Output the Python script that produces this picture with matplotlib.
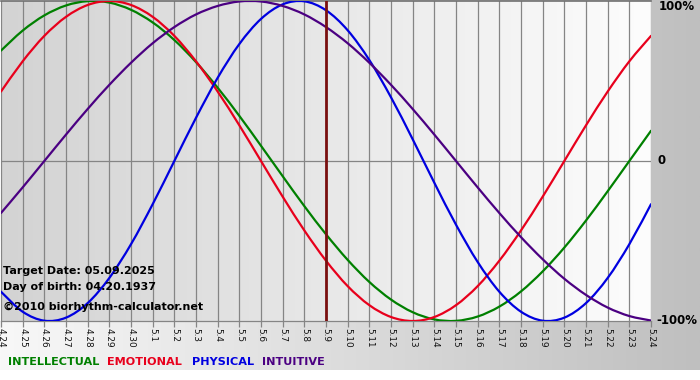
import numpy as np
import matplotlib
matplotlib.use("Agg")
import matplotlib.pyplot as plt
from matplotlib.colors import LinearSegmentedColormap
from matplotlib.path import Path
from matplotlib.patches import PathPatch

dates = ["4.24", "4.25", "4.26", "4.27", "4.28", "4.29", "4.30",
         "5.1", "5.2", "5.3", "5.4", "5.5", "5.6", "5.7", "5.8", "5.9",
         "5.10", "5.11", "5.12", "5.13", "5.14", "5.15", "5.16", "5.17",
         "5.18", "5.19", "5.20", "5.21", "5.22", "5.23", "5.24"]

intellectual = [0.690, 0.815, 0.910, 0.972, 0.999, 0.990, 0.945, 0.866, 0.756,
                0.618, 0.458, 0.282, 0.095, -0.095, -0.282, -0.458, -0.618,
                -0.756, -0.866, -0.945, -0.990, -0.999, -0.972, -0.910, -0.815,
                -0.690, -0.541, -0.372, -0.189, 0.000, 0.189]
emotional = [0.434, 0.623, 0.782, 0.901, 0.975, 1.000, 0.975, 0.901, 0.782,
             0.623, 0.434, 0.223, 0.000, -0.223, -0.434, -0.623, -0.782,
             -0.901, -0.975, -1.000, -0.975, -0.901, -0.782, -0.623, -0.434,
             -0.223, 0.000, 0.223, 0.434, 0.623, 0.782]
physical = [-0.817, -0.942, -0.998, -0.979, -0.888, -0.731, -0.520, -0.270,
            0.000, 0.270, 0.520, 0.731, 0.888, 0.979, 0.998, 0.942, 0.817,
            0.631, 0.398, 0.136, -0.136, -0.398, -0.631, -0.817, -0.942,
            -0.998, -0.979, -0.888, -0.731, -0.520, -0.270]
intuitive = [-0.325, -0.165, 0.000, 0.165, 0.325, 0.476, 0.614, 0.736, 0.837,
             0.916, 0.969, 0.997, 0.997, 0.969, 0.916, 0.837, 0.736, 0.614,
             0.476, 0.325, 0.165, 0.000, -0.165, -0.325, -0.476, -0.614,
             -0.736, -0.837, -0.916, -0.969, -0.997]

target_index = dates.index("5.9")
series_names = ["INTELLECTUAL", "EMOTIONAL", "PHYSICAL", "INTUITIVE"]
series_colors = ["#008000", "#e8001c", "#0000e0", "#4b0082"]
series_values = [intellectual, emotional, physical, intuitive]

W, H = 700, 380
fig = plt.figure(figsize=(W / 100, H / 100), dpi=100)
fig.patch.set_facecolor("white")

# outer background gradient
bg = fig.add_axes([0, 0, 1, 1], zorder=0)
bg.set_xlim(0, 1)
bg.set_ylim(0, 1)
bg.axis("off")
grad = np.linspace(0, 1, 256)[None, :]
cmap_out = LinearSegmentedColormap.from_list("o", ["#f8f8f8", "#bfbfbf"])
bg.imshow(grad, cmap=cmap_out, aspect="auto", extent=[0, 1, 10 / H, 1])

# plot area
ax = fig.add_axes([1 / W, 59 / H, 650 / W, 320 / H], zorder=1)
cmap_in = LinearSegmentedColormap.from_list("i", ["#d3d3d3", "#fdfdfd"])
x = np.arange(len(dates))
ax.imshow(grad, cmap=cmap_in, aspect="auto", extent=[0, len(dates) - 1, -1, 1], zorder=0)
ax.set_xlim(0, len(dates) - 1)
ax.set_ylim(-1, 1)

for xi in x:
    ax.axvline(xi, color="#858585", lw=0.9, zorder=1)
ax.axhline(0, color="#858585", lw=0.9, zorder=1)


def smooth_path(xs, ys):
    """Catmull-Rom curve through the data points, as cubic Bezier segments."""
    pts = np.column_stack([xs, ys]).astype(float)
    n = len(pts)
    verts = [pts[0]]
    codes = [Path.MOVETO]
    for i in range(n - 1):
        p0 = pts[i - 1] if i > 0 else pts[i]
        p1 = pts[i]
        p2 = pts[i + 1]
        p3 = pts[i + 2] if i + 2 < n else pts[i + 1]
        c1 = p1 + (p2 - p0) / 6.0
        c2 = p2 - (p3 - p1) / 6.0
        verts += [c1, c2, p2]
        codes += [Path.CURVE4] * 3
    return Path(verts, codes)


for vals, col in zip(series_values, series_colors):
    patch = PathPatch(smooth_path(x, vals), facecolor="none", edgecolor=col,
                      lw=1.6, zorder=3, capstyle="round", joinstyle="round")
    ax.add_patch(patch)

ax.axvline(target_index, color="#7a1010", lw=2.0, zorder=4)

ax.set_xticks(x)
ax.set_xticklabels(dates, rotation=270, fontsize=6.4, color="#111111")
ax.tick_params(axis="x", length=4, color="#858585", pad=1, width=0.9)
ax.set_yticks([])
for s in ["left", "right"]:
    ax.spines[s].set_visible(False)
ax.spines["top"].set_color("#707070")
ax.spines["bottom"].set_color("#858585")
ax.spines["top"].set_linewidth(1.2)
ax.spines["bottom"].set_linewidth(0.9)


def fx(px):
    return px / W


def fy(py):
    return 1 - py / H


# right axis labels
fig.text(fx(659), fy(7), "100%", fontsize=8.5, fontweight="bold", va="center", ha="left", zorder=5)
fig.text(fx(657), fy(161), "0", fontsize=8.5, fontweight="bold", va="center", ha="left", zorder=5)
fig.text(fx(656), fy(321), "-100%", fontsize=8.5, fontweight="bold", va="center", ha="left", zorder=5)

# info texts
fig.text(fx(3), fy(271), "Target Date: 05.09.2025", fontsize=8.0, fontweight="bold", va="center", ha="left", zorder=5)
fig.text(fx(3), fy(287), "Day of birth: 04.20.1937", fontsize=8.0, fontweight="bold", va="center", ha="left", zorder=5)
fig.text(fx(3), fy(307), "\u00a92010 biorhythm-calculator.net", fontsize=8.0, fontweight="bold", va="center", ha="left", zorder=5)

# legend
legend_x = [8, 107, 192, 262]
for name, col, lx in zip(series_names, series_colors, legend_x):
    fig.text(fx(lx), fy(362), name, color=col, fontsize=8.1, fontweight="bold", va="center", ha="left", zorder=5)

fig.savefig("out.png", dpi=100)
